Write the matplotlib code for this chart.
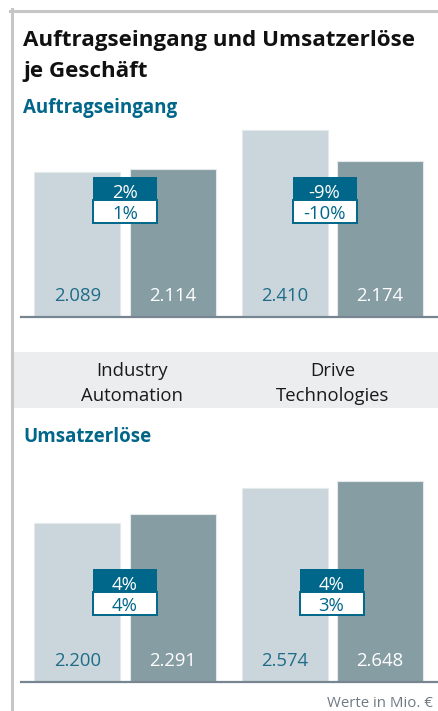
import matplotlib
matplotlib.use("Agg")
import matplotlib.pyplot as plt
from matplotlib.patches import Rectangle
import numpy as np

# data (Mio. EUR), previous year vs current year
segments = ["Industry\nAutomation", "Drive\nTechnologies"]
orders_prev = [2089, 2410]
orders_curr = [2114, 2174]
orders_chg_nominal = ["2%", "-9%"]
orders_chg_comparable = ["1%", "-10%"]
revenue_prev = [2200, 2574]
revenue_curr = [2291, 2648]
revenue_chg_nominal = ["4%", "4%"]
revenue_chg_comparable = ["4%", "3%"]

TEAL = "#00668a"
LIGHT = "#cad6db"
DARK = "#879da4"
BAND = "#ecedef"
FRAME = "#c6c6c6"
AXIS = "#76858f"
NOTE = "#6f7a83"

W, H = 438, 711
plt.rcParams["font.family"] = ["Open Sans", "DejaVu Sans"]

fig = plt.figure(figsize=(W / 100, H / 100), dpi=100)


def fx(x):
    return x / W


def fy(y):
    return 1 - y / H


def px_rect(x0, y0, x1, y1, **kw):
    # rectangle given in image pixels (y downwards)
    fig.add_artist(Rectangle((fx(x0), fy(y1)), fx(x1) - fx(x0), fy(y0) - fy(y1),
                             transform=fig.transFigure, **kw))


# frame and category band
fig.add_artist(plt.Line2D([fx(10), fx(438)], [fy(10.5), fy(10.5)], color=FRAME, lw=2.2,
                          transform=fig.transFigure))
fig.add_artist(plt.Line2D([fx(11.5), fx(11.5)], [fy(9.4), fy(711)], color=FRAME, lw=2.2,
                          transform=fig.transFigure))
px_rect(14, 352, 438, 408, color=BAND, lw=0, zorder=0)

fig.text(fx(23), fy(46), "Auftragseingang und Umsatzerlöse", fontsize=16.1,
         fontweight="bold", color="#111111", va="baseline")
fig.text(fx(23), fy(77), "je Geschäft", fontsize=16.1, fontweight="bold",
         color="#111111", va="baseline")
fig.text(fx(23), fy(112.5), "Auftragseingang", fontsize=13.5, fontweight="bold",
         color=TEAL, va="baseline")
fig.text(fx(23), fy(441.5), "Umsatzerlöse", fontsize=13.5, fontweight="bold",
         color=TEAL, va="baseline")
fig.text(fx(433), fy(707), "Werte in Mio. €", fontsize=10.8, color=NOTE,
         ha="right", va="baseline")

x = np.arange(len(segments))
off = 0.229
width = 0.4145
xlim = (-0.501, 1.508)
VAL_FS = 13.3


def panel(top, bottom, ylim, prev, curr, chg_top, chg_bot, box_mid, box_dx):
    ax = fig.add_axes([fx(21), fy(bottom), fx(438) - fx(21), fy(top) - fy(bottom)])
    ax.bar(x - off, prev, width, color=LIGHT, edgecolor="#e4eaec", linewidth=0.8)
    ax.bar(x + off, curr, width, color=DARK, edgecolor="#e4eaec", linewidth=0.8)
    ax.set_xlim(*xlim)
    ax.set_ylim(*ylim)
    ax.axis("off")
    ax.axhline(ylim[0], color=AXIS, lw=1.6, clip_on=False)

    for i in range(len(x)):
        ax.annotate(f"{prev[i]:,}".replace(",", "."), (x[i] - off, 0),
                    xycoords=("data", "axes fraction"), xytext=(0, 11.5),
                    textcoords="offset points", ha="center", va="baseline",
                    fontsize=VAL_FS, color="#1f6c89")
        ax.annotate(f"{curr[i]:,}".replace(",", "."), (x[i] + off, 0),
                    xycoords=("data", "axes fraction"), xytext=(0, 11.5),
                    textcoords="offset points", ha="center", va="baseline",
                    fontsize=VAL_FS, color="white")

        # stacked change box (nominal on top, comparable below)
        cx = ax.transData.transform((x[i], 0))[0] * W / fig.bbox.width + box_dx[i]
        bw, bh = 64, 22.7
        px_rect(cx - bw / 2, box_mid - bh, cx + bw / 2, box_mid, color=TEAL, lw=0,
                zorder=5)
        px_rect(cx - bw / 2, box_mid, cx + bw / 2, box_mid + bh, facecolor="white",
                edgecolor=TEAL, lw=1.4, zorder=5)
        fig.text(fx(cx), fy(box_mid - 2.5), chg_top[i], fontsize=VAL_FS, color="white",
                 ha="center", va="baseline", zorder=6)
        fig.text(fx(cx), fy(box_mid + bh - 4), chg_bot[i], fontsize=VAL_FS, color=TEAL,
                 ha="center", va="baseline", zorder=6)
    return ax


ax1 = panel(120, 316.5, (1000, 2486), orders_prev, orders_curr,
            orders_chg_nominal, orders_chg_comparable, 200, [0, -8])
ax2 = panel(470, 682, (500, 2761), revenue_prev, revenue_curr,
            revenue_chg_nominal, revenue_chg_comparable, 592, [0, -1])

# segment labels in the grey band
label_dx = [7, 0]
for i, name in enumerate(segments):
    cx = ax1.transData.transform((x[i], 0))[0] * W / fig.bbox.width + label_dx[i]
    first, second = name.split("\n")
    fig.text(fx(cx), fy(376), first, fontsize=13.3, color="#1a1a1a",
             ha="center", va="baseline")
    fig.text(fx(cx), fy(401), second, fontsize=13.3, color="#1a1a1a",
             ha="center", va="baseline")

fig.savefig("out.png", dpi=100)
